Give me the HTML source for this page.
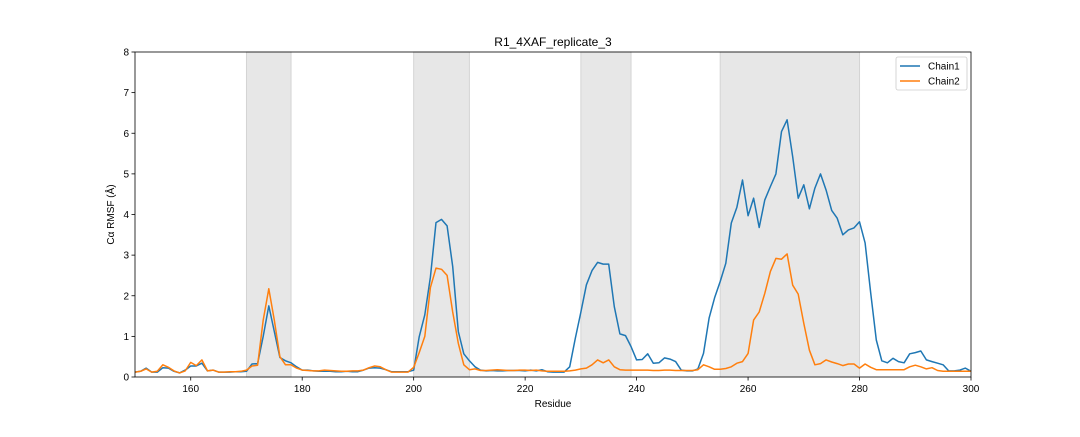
<!DOCTYPE html>
<html><head><meta charset="utf-8"><style>
body{margin:0;background:#fff;font-family:"Liberation Sans",sans-serif;}
svg text{font-family:"Liberation Sans",sans-serif;}
</style></head><body>
<svg id="chart" width="1080" height="432" viewBox="0 0 1080 432" xmlns="http://www.w3.org/2000/svg"></svg>
<script>
const residueStart = 150;
const chain1 = [0.12,0.14,0.22,0.12,0.12,0.23,0.22,0.14,0.1,0.17,0.27,0.27,0.34,0.15,0.17,0.12,0.12,0.12,0.13,0.13,0.14,0.32,0.33,1.0,1.75,1.12,0.48,0.4,0.35,0.25,0.17,0.17,0.15,0.14,0.14,0.14,0.13,0.13,0.14,0.13,0.13,0.17,0.22,0.23,0.22,0.18,0.13,0.13,0.13,0.13,0.17,0.99,1.53,2.46,3.8,3.88,3.72,2.72,1.12,0.57,0.4,0.25,0.17,0.15,0.16,0.15,0.15,0.16,0.16,0.16,0.15,0.17,0.15,0.18,0.13,0.12,0.12,0.12,0.25,0.95,1.6,2.27,2.62,2.82,2.78,2.78,1.73,1.06,1.02,0.75,0.42,0.43,0.57,0.34,0.35,0.47,0.44,0.38,0.17,0.15,0.15,0.2,0.58,1.45,1.95,2.35,2.8,3.79,4.18,4.85,3.97,4.4,3.68,4.36,4.69,5.0,6.04,6.33,5.42,4.4,4.73,4.14,4.65,5.0,4.6,4.1,3.91,3.5,3.62,3.67,3.82,3.3,2.07,0.91,0.4,0.35,0.46,0.38,0.35,0.57,0.6,0.64,0.42,0.38,0.34,0.3,0.15,0.15,0.17,0.22,0.14];
const chain2 = [0.12,0.14,0.2,0.12,0.14,0.3,0.24,0.15,0.1,0.15,0.36,0.28,0.42,0.15,0.17,0.12,0.12,0.13,0.13,0.14,0.17,0.27,0.29,1.4,2.17,1.4,0.5,0.3,0.3,0.22,0.17,0.16,0.15,0.15,0.17,0.16,0.15,0.14,0.14,0.15,0.15,0.17,0.23,0.27,0.25,0.18,0.12,0.12,0.12,0.12,0.24,0.6,1.0,2.2,2.68,2.65,2.5,1.6,0.83,0.3,0.18,0.2,0.16,0.16,0.17,0.18,0.17,0.16,0.16,0.17,0.17,0.16,0.17,0.15,0.14,0.14,0.14,0.14,0.15,0.17,0.2,0.22,0.3,0.42,0.35,0.42,0.25,0.18,0.17,0.17,0.17,0.17,0.17,0.16,0.16,0.17,0.17,0.16,0.16,0.16,0.16,0.18,0.3,0.25,0.19,0.19,0.21,0.25,0.34,0.38,0.58,1.4,1.6,2.06,2.6,2.92,2.9,3.03,2.26,2.04,1.32,0.66,0.3,0.33,0.42,0.37,0.33,0.28,0.32,0.32,0.22,0.32,0.24,0.18,0.18,0.18,0.18,0.18,0.18,0.25,0.29,0.25,0.2,0.23,0.16,0.14,0.14,0.14,0.14,0.14,0.14];
const regions = [[170,178],[200,210],[230,239],[255,280]];
const xTicks = [160,180,200,220,240,260,280,300];
const yTicks = [0,1,2,3,4,5,6,7,8];
const seriesNames = ["Chain1","Chain2"];

const L=135,R=971,T=52,B=377;
const X=v=>L+(v-150)/(300-150)*(R-L);
const Y=v=>B-v/8*(B-T);
const svg=document.getElementById('chart');
const NS='http://www.w3.org/2000/svg';
function mk(tag,attrs,parent){const e=document.createElementNS(NS,tag);for(const k in attrs)e.setAttribute(k,attrs[k]);(parent||svg).appendChild(e);return e;}

regions.forEach(r=>{
  const e=mk('rect',{x:X(r[0]),y:T,width:X(r[1])-X(r[0]),height:B-T,fill:'#e7e7e7',stroke:'#d4d4d4','stroke-width':1});
  
  
});
const colors=['#1f77b4','#ff7f0e'];
[chain1,chain2].forEach((s,i)=>{
  const pts=s.map((v,j)=>X(residueStart+j).toFixed(1)+','+Y(v).toFixed(1)).join(' ');
  const e=mk('polyline',{points:pts,fill:'none',stroke:colors[i],'stroke-width':1.5,'stroke-linejoin':'round'});
  
  
});
const frame=mk('rect',{x:L,y:T,width:R-L,height:B-T,fill:'none',stroke:'#000','stroke-width':0.8});


xTicks.forEach(t=>{
  mk('line',{x1:X(t),x2:X(t),y1:B,y2:B+3.5,stroke:'#000','stroke-width':0.8});
  const e=mk('text',{x:X(t),y:B+15,'font-size':10,'text-anchor':'middle',fill:'#000'});
  e.textContent=t;
  
  
});
yTicks.forEach(t=>{
  mk('line',{x1:L-3.5,x2:L,y1:Y(t),y2:Y(t),stroke:'#000','stroke-width':0.8});
  const e=mk('text',{x:L-6,y:Y(t)+3.5,'font-size':10,'text-anchor':'end',fill:'#000'});
  e.textContent=t;
  
  
});
let e=mk('text',{x:(L+R)/2,y:46,'font-size':12,'text-anchor':'middle'});e.textContent='R1_4XAF_replicate_3';


e=mk('text',{x:(L+R)/2,y:407,'font-size':10,'text-anchor':'middle'});e.textContent='Residue';


e=mk('text',{x:0,y:0,'font-size':10,'text-anchor':'middle',transform:'translate(114,'+((T+B)/2)+') rotate(-90)'});e.textContent='Cα RMSF (Å)';


const lg=mk('g',{});


mk('rect',{x:896,y:57,width:71,height:33,rx:2,fill:'#fff','fill-opacity':0.8,stroke:'#ccc','stroke-width':0.8},lg);
seriesNames.forEach((n,i)=>{
  const y=66+i*15;
  mk('line',{x1:900,x2:920,y1:y,y2:y,stroke:colors[i],'stroke-width':1.5},lg);
  const t=mk('text',{x:928,y:y+3.5,'font-size':10},lg);t.textContent=n;
  
  
});
</script>
</body></html>
